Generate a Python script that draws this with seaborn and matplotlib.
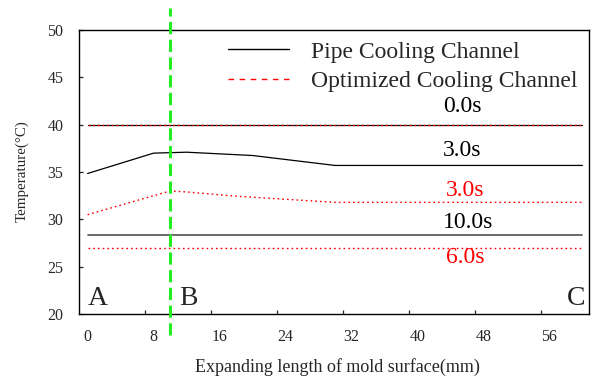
import matplotlib
matplotlib.use("Agg")
import matplotlib.pyplot as plt
from matplotlib.lines import Line2D
import seaborn as sns

# Surface temperature along the expanded mold surface (mm -> °C)
pipe_0s_x = [0, 60]
pipe_0s_y = [40.0, 40.0]
pipe_3s_x = [0, 8, 12, 20, 30, 60]
pipe_3s_y = [34.85, 37.0, 37.1, 36.75, 35.7, 35.7]
pipe_10s_x = [0, 60]
pipe_10s_y = [28.3, 28.3]

opt_0s_x = [0, 60]
opt_0s_y = [40.0, 40.0]
opt_3s_x = [0, 8, 10, 12, 18, 30, 60]
opt_3s_y = [30.5, 32.5, 33.0, 32.9, 32.45, 31.8, 31.8]
opt_6s_x = [0, 60]
opt_6s_y = [27.0, 27.0]

series_names = ["Pipe Cooling Channel", "Optimized Cooling Channel"]
x_ticks = [0, 8, 16, 24, 32, 40, 48, 56]
y_ticks = [20, 25, 30, 35, 40, 45, 50]
boundary_x = 10  # B: end of the first segment
point_labels = ["A", "B", "C"]

sns.set_style("ticks")
plt.rcParams["font.family"] = ["Liberation Serif", "DejaVu Serif"]

fig = plt.figure(figsize=(5.92, 3.79), dpi=100)
ax = fig.add_axes([0.134, 0.1715, 0.861, 0.749])

red = "#FF0000"
dot = (1.2, 2.2)

sns.lineplot(x=pipe_0s_x, y=pipe_0s_y, ax=ax, color="black", lw=0.9)
sns.lineplot(x=opt_0s_x, y=opt_0s_y, ax=ax, color=red, lw=1.0).lines[-1].set_dashes(dot)
sns.lineplot(x=pipe_3s_x, y=pipe_3s_y, ax=ax, color="black", lw=0.9)
sns.lineplot(x=opt_3s_x, y=opt_3s_y, ax=ax, color=red, lw=1.0).lines[-1].set_dashes(dot)
sns.lineplot(x=pipe_10s_x, y=pipe_10s_y, ax=ax, color="#505050", lw=1.2)
sns.lineplot(x=opt_6s_x, y=opt_6s_y, ax=ax, color=red, lw=1.0).lines[-1].set_dashes(dot)

# boundary marker between segments A-B and B-C
ax.plot([boundary_x, boundary_x], [17.8, 52.3], color="#22EE22", lw=2.2,
        dashes=(4, 1.8), clip_on=False, zorder=5)

ax.set_xlim(-1, 60.8)
ax.set_ylim(20, 50)

ax.set_xticks(x_ticks)
ax.set_xticks([t - 1 for t in x_ticks[1:]], minor=True)
ax.set_yticks(y_ticks)
ax.tick_params(axis="x", which="major", length=0, pad=11, labelsize=11.5)
ax.tick_params(axis="x", which="minor", direction="in", length=3, width=0.9)
ax.tick_params(axis="y", direction="in", length=3, width=0.9, pad=11.5, labelsize=11.5)

for s in ax.spines.values():
    s.set_visible(True)
    s.set_linewidth(1.0)
    s.set_color("black")

ax.set_xlabel("Expanding length of mold surface(mm)", fontsize=13)
ax.xaxis.set_label_coords(0.5056, -0.155)
ax.set_ylabel("Temperature(°C)", fontsize=10.8)
ax.yaxis.set_label_coords(-0.099, 0.5035)

# time stamps for each curve
ax.text(45.4, 41.88, "0.0s", fontsize=17, ha="center", va="center", color="black")
ax.text(45.4, 37.24, "3.0s", fontsize=17, ha="center", va="center", color="black")
ax.text(45.75, 33.1, "3.0s", fontsize=17, ha="center", va="center", color=red)
ax.text(46.1, 29.63, "10.0s", fontsize=17, ha="center", va="center", color="black")
ax.text(45.8, 25.97, "6.0s", fontsize=17, ha="center", va="center", color=red)

# points along the mold surface
ax.text(0, 20.95, point_labels[0], fontsize=20, ha="left", va="baseline")
ax.text(11.1, 20.95, point_labels[1], fontsize=20, ha="left", va="baseline")
ax.text(60.4, 20.95, point_labels[2], fontsize=20, ha="right", va="baseline")

handles = [
    Line2D([], [], color="black", lw=1.0),
    Line2D([], [], color=red, lw=1.0, dashes=(4, 4)),
]
ax.legend(handles, series_names, loc="center left", bbox_to_anchor=(0.2917, 0.872),
          frameon=False, fontsize=17, borderpad=0, borderaxespad=0,
          handlelength=2.6, handletextpad=0.93, labelspacing=0.33)

fig.savefig("out.png", dpi=100)
